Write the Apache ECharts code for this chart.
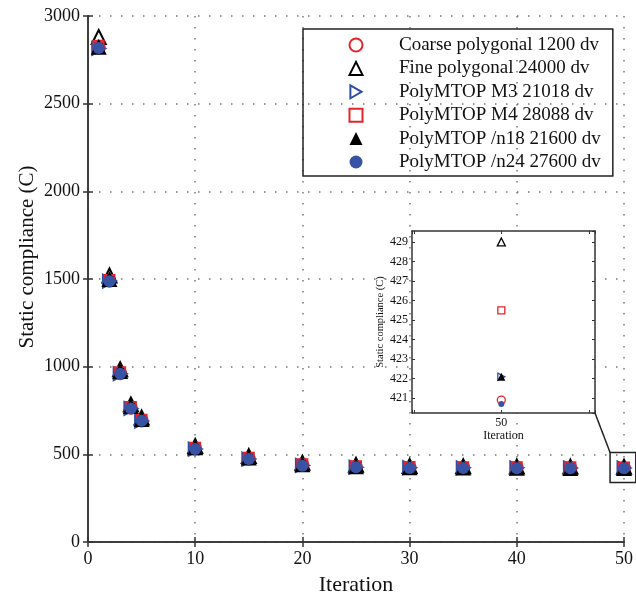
<!DOCTYPE html>
<html>
<head>
<meta charset="utf-8">
<script src="https://cdn.jsdelivr.net/npm/echarts@6/dist/echarts.min.js"></script>
<style>
html,body{margin:0;padding:0;background:#fff;}
#chart{width:636px;height:601px;}
</style>
</head>
<body>
<div id="chart"></div>
<script>
// ---- data ----
var iterations = [1, 2, 3, 4, 5, 10, 15, 20, 25, 30, 35, 40, 45, 50];
var coarse = [2820, 1490, 962, 765, 693, 532, 475, 440, 428, 425, 425, 423, 422, 420.9];
var fine   = [2880, 1520, 985, 785, 710, 548, 490, 452, 440, 434, 432, 431, 430, 429.0];
var m3     = [2815, 1488, 960, 762, 690, 530, 473, 437, 427, 424, 423, 423, 422, 422.1];
var m4     = [2830, 1495, 968, 770, 697, 537, 480, 444, 432, 428, 427, 426, 426, 425.5];
var n18    = [2825, 1500, 975, 775, 702, 540, 482, 444, 432, 427, 425, 423, 422.5, 422.1];
var n24    = [2818, 1487, 960, 761, 691, 530, 473, 435, 426, 422, 422, 421, 421, 420.7];
var seriesNames = [
  'Coarse polygonal 1200 dv',
  'Fine polygonal 24000 dv',
  'PolyMTOP M3 21018 dv',
  'PolyMTOP M4 28088 dv',
  'PolyMTOP /n18 21600 dv',
  'PolyMTOP /n24 27600 dv'
];
var xTicks = [0, 10, 20, 30, 40, 50];
var yTicks = [0, 500, 1000, 1500, 2000, 2500, 3000];
var insetIter = 50;
var zoomBox = {x0: 48.7, x1: 51.1, y0: 340, y1: 510};

var FONT = 'Liberation Serif';
var RED = '#e3242b', BLUE = '#2e4fa0', BLACK = '#000', DOT = '#3853a4';
var AX = '#333';
var RIGHT_TRI = 'path://M0,0 L17.3,10 L0,20 Z';

var allSeries = [coarse, fine, m3, m4, n18, n24];
var styles = [
  {symbol: 'circle', size: 12, insetSize: 8, item: {color: 'rgba(255,255,255,0)', borderColor: RED, borderWidth: 2, opacity: 1}},
  {symbol: 'triangle', size: 14, insetSize: 8, item: {color: 'rgba(255,255,255,0)', borderColor: BLACK, borderWidth: 2, opacity: 1}},
  {symbol: RIGHT_TRI, size: 13, insetSize: 7, item: {color: 'rgba(255,255,255,0)', borderColor: BLUE, borderWidth: 2, opacity: 1}},
  {symbol: 'rect', size: 10, insetSize: 7, item: {color: 'rgba(255,255,255,0)', borderColor: RED, borderWidth: 2, opacity: 1}},
  {symbol: 'triangle', size: 16, insetSize: 8, item: {color: BLACK, borderWidth: 0, opacity: 1}},
  {symbol: 'circle', size: 12, insetSize: 6, item: {color: DOT, borderWidth: 0, opacity: 1}}
];

function pairs(vals) {
  return iterations.map(function (it, i) { return [it, vals[i]]; });
}
function insetPoint(vals) {
  var idx = iterations.indexOf(insetIter);
  return [[insetIter, vals[idx]]];
}

var series = [];
allSeries.forEach(function (vals, k) {
  var s = styles[k];
  series.push({
    name: seriesNames[k], type: 'scatter', xAxisIndex: 0, yAxisIndex: 0,
    symbol: s.symbol, symbolSize: s.size,
    itemStyle: s.item, data: pairs(vals), z: 3 + k, silent: true
  });
});
allSeries.forEach(function (vals, k) {
  var s = styles[k];
  series.push({
    name: seriesNames[k], type: 'scatter', xAxisIndex: 2, yAxisIndex: 2,
    symbol: s.symbol, symbolSize: s.insetSize,
    itemStyle: Object.assign({}, s.item, {borderWidth: s.item.borderWidth ? 1.3 : 0}),
    data: insetPoint(vals), z: 10 + k, silent: true
  });
});

var dotted = {type: [1.5, 9.5], color: '#777', width: 1.5};
var axLine = {show: true, lineStyle: {color: AX, width: 1.5}};
var plainNum = function (v) { return String(v); };

var chart = echarts.init(document.getElementById('chart'), null, {renderer: 'canvas'});
var option = {
  animation: false,
  backgroundColor: '#fff',
  textStyle: {fontFamily: FONT},
  grid: [
    {left: 88, top: 16, width: 538, height: 529, containLabel: false},
    {left: 412, top: 231, width: 183, height: 182, show: true, backgroundColor: '#fff', borderWidth: 0, z: 5}
  ],
  legend: {
    orient: 'vertical', left: 303, top: 29,
    padding: [6.5, 12, 4.5, 45.5],
    borderColor: '#222', borderWidth: 1.5,
    itemWidth: 13, itemHeight: 13, itemGap: 4.4,
    textStyle: {fontFamily: FONT, fontSize: 19, color: '#111', lineHeight: 19, padding: [0, 0, 0, 31.5]},
    data: seriesNames
  },
  xAxis: [
    {gridIndex: 0, type: 'value', min: xTicks[0], max: xTicks[xTicks.length - 1], interval: 10,
     axisLine: axLine, axisTick: {inside: true, length: 5, lineStyle: {color: AX, width: 1.5}},
     axisLabel: {fontFamily: FONT, fontSize: 18, color: '#111', margin: 8, formatter: plainNum},
     splitLine: {show: true, lineStyle: dotted},
     name: 'Iteration', nameLocation: 'middle', nameGap: 32,
     nameTextStyle: {fontFamily: FONT, fontSize: 22, color: '#111'}},
    {gridIndex: 0, type: 'value', position: 'top', min: xTicks[0], max: xTicks[xTicks.length - 1], interval: 10,
     axisLine: axLine, axisTick: {inside: true, length: 5, lineStyle: {color: AX, width: 1.5}},
     axisLabel: {show: false}, splitLine: {show: false}},
    {gridIndex: 1, type: 'value', min: 48.98, max: 51.07, minInterval: 1, maxInterval: 1, splitNumber: 2,
     axisLine: axLine, axisTick: {inside: true, length: 3, lineStyle: {color: AX, width: 1}},
     axisLabel: {fontFamily: FONT, fontSize: 12, color: '#111', margin: 4,
       formatter: function (v) { return Math.abs(v - insetIter) < 1e-6 ? String(insetIter) : ''; }},
     splitLine: {show: false}, z: 6,
     name: 'Iteration', nameLocation: 'middle', nameGap: 17,
     nameTextStyle: {fontFamily: FONT, fontSize: 12, color: '#111'}},
    {gridIndex: 1, type: 'value', position: 'top', min: 48.98, max: 51.07, minInterval: 1, maxInterval: 1, splitNumber: 2,
     axisLine: axLine, axisTick: {inside: true, length: 3, lineStyle: {color: AX, width: 1}},
     axisLabel: {show: false}, splitLine: {show: false}, z: 6}
  ],
  yAxis: [
    {gridIndex: 0, type: 'value', min: yTicks[0], max: yTicks[yTicks.length - 1], interval: 500,
     axisLine: axLine, axisTick: {inside: true, length: 5, lineStyle: {color: AX, width: 1.5}},
     axisLabel: {fontFamily: FONT, fontSize: 18, color: '#111', margin: 8, formatter: plainNum},
     splitLine: {show: true, lineStyle: dotted},
     name: 'Static compliance (C)', nameLocation: 'middle', nameGap: 50, nameMoveOverlap: false,
     nameTextStyle: {fontFamily: FONT, fontSize: 21, color: '#111', padding: [0, 0, 0, 44]}},
    {gridIndex: 0, type: 'value', position: 'right', min: yTicks[0], max: yTicks[yTicks.length - 1], interval: 500,
     axisLine: axLine, axisTick: {inside: true, length: 5, lineStyle: {color: AX, width: 1.5}},
     axisLabel: {show: false}, splitLine: {show: false}},
    {gridIndex: 1, type: 'value', min: 420.24, max: 429.56, minInterval: 1, maxInterval: 1, splitNumber: 9,
     axisLine: axLine, axisTick: {inside: true, length: 3, lineStyle: {color: AX, width: 1}},
     axisLabel: {fontFamily: FONT, fontSize: 12, color: '#111', margin: 4, showMinLabel: false, showMaxLabel: false,
       formatter: function (v) { return Math.abs(v - Math.round(v)) < 1e-6 ? String(Math.round(v)) : ''; }},
     splitLine: {show: false}, z: 6,
     name: 'Static compliance (C)', nameLocation: 'middle', nameGap: 26,
     nameTextStyle: {fontFamily: FONT, fontSize: 10.5, color: '#111'}},
    {gridIndex: 1, type: 'value', position: 'right', min: 420.24, max: 429.56, minInterval: 1, maxInterval: 1, splitNumber: 9,
     axisLine: axLine, axisTick: {inside: true, length: 3, lineStyle: {color: AX, width: 1}},
     axisLabel: {show: false}, splitLine: {show: false}, z: 6}
  ],
  series: series
};
chart.setOption(option);

// zoom box + connector, positioned through the axes
var p0 = chart.convertToPixel({gridIndex: 0}, [zoomBox.x0, zoomBox.y1]);
var p1 = chart.convertToPixel({gridIndex: 0}, [zoomBox.x1, zoomBox.y0]);
var c = chart.convertToPixel({gridIndex: 1}, [51.07, 420.24]);
chart.setOption({
  graphic: [
    {type: 'rect', z: 20, shape: {x: p0[0], y: p0[1], width: p1[0] - p0[0], height: p1[1] - p0[1]},
     style: {fill: 'none', stroke: '#222', lineWidth: 1.5}},
    {type: 'line', z: 20, shape: {x1: c[0], y1: c[1], x2: p0[0], y2: p0[1]},
     style: {stroke: '#222', lineWidth: 1.5}}
  ]
});
</script>
</body>
</html>
